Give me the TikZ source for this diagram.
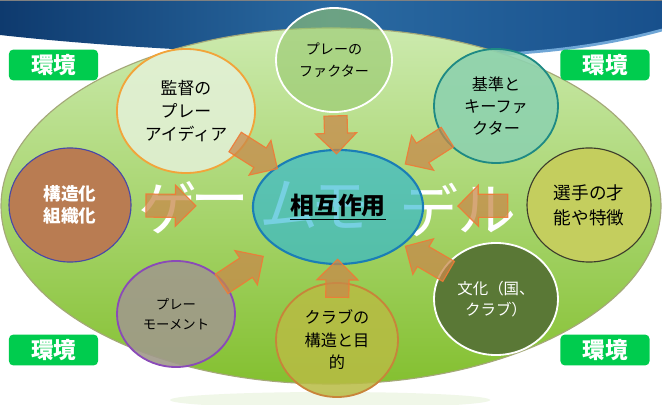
\documentclass[tikz,border=0pt]{standalone}
\usepackage{fontspec}
\newfontfamily\jp{Noto Sans CJK JP}
\usetikzlibrary{shapes.geometric, shapes.arrows, positioning, calc}

\definecolor{bandL}{HTML}{0E3A6E}
\definecolor{bandM}{HTML}{2A6AA2}
\definecolor{bandR}{HTML}{18508C}
\definecolor{bandlight}{HTML}{6FA6D6}
\definecolor{fieldT}{HTML}{CCEAAE}
\definecolor{fieldM}{HTML}{A8D872}
\definecolor{fieldB}{HTML}{84C030}
\definecolor{fieldline}{HTML}{A4A878}
\definecolor{glow}{HTML}{F0F7E8}
\definecolor{envgreen}{HTML}{00CC4E}
\definecolor{kantokuline}{HTML}{F2A43A}
\definecolor{kantokufill}{HTML}{E4F1D8}
\definecolor{factorfill}{HTML}{98C870}
\definecolor{kijunline}{HTML}{1E8A84}
\definecolor{kijunfill}{HTML}{8ED2AE}
\definecolor{senshuline}{HTML}{3C3C2C}
\definecolor{senshufill}{HTML}{C4CE5E}
\definecolor{bunkafill}{HTML}{5A7836}
\definecolor{clubline}{HTML}{C8843A}
\definecolor{clubfill}{HTML}{B8BC44}
\definecolor{momentline}{HTML}{8A4AB8}
\definecolor{momentfill}{HTML}{A09A8A}
\definecolor{kozoline}{HTML}{4848A8}
\definecolor{kozofill}{HTML}{B97C52}
\definecolor{sogoline}{HTML}{1A7EB6}
\definecolor{sogofill}{HTML}{2EB7D2}
\definecolor{flowline}{HTML}{F07A36}
\definecolor{flowfill}{HTML}{C8894A}

\begin{document}
\begin{tikzpicture}[x=0.025cm, y=-0.025cm, font=\jp,
    bubble/.style={ellipse, draw, line width=1.3pt, align=center, inner sep=0pt, text=black, text opacity=1, font=\jp\fontsize{11.5}{16}\selectfont},
    env/.style={rounded corners=3pt, fill=envgreen, text=white, minimum width=2.225cm, minimum height=0.75cm, font=\jp\bfseries\fontsize{16}{18}\selectfont},
    flow/.style={single arrow, draw=flowline, fill=flowfill, fill opacity=.75, draw opacity=.9, line width=0.8pt, minimum height=1.25cm, minimum width=1cm, single arrow head extend=0.225cm, inner xsep=0pt, inner ysep=0.275cm, sloped, allow upside down},
    wm/.style={text=white, inner sep=0pt, font=\jp\fontsize{42}{42}\selectfont}
]
    \useasboundingbox (0,0) rectangle (662,405);
    \fill[white] (0,0) rectangle (662,405);

    % background band and field
    \shade[left color=bandL, right color=bandR, middle color=bandM] (0,0) -- (662,0) -- (662,30) .. controls (560,58) and (450,58) .. (330,55) .. controls (200,52) and (90,45) .. (0,35) -- cycle;
    \draw[bandlight, line width=2pt] (662,30) .. controls (560,58) and (450,58) .. (330,55);
    \draw[gray, line width=1pt] (0,0.5) -- (662,0.5);
    \fill[glow] (330,400) ellipse (160 and 8);
    \shade[top color=fieldT, middle color=fieldM, bottom color=fieldB] (331,206) ellipse (330 and 178);
    \draw[fieldline, line width=.8pt] (331,206) ellipse (330 and 178);

    % environment labels
    \node[env] (env1) at (53.5,65) {環境};
    \node[env] (env2) at (605,65) {環境};
    \node[env] (env3) at (53.5,350) {環境};
    \node[env] (env4) at (605,350) {環境};

    % factors
    \node[bubble, draw=kantokuline, fill=kantokufill, fill opacity=.85, minimum width=3.45cm, minimum height=3.1cm, font=\jp\fontsize{12}{16.5}\selectfont] (kantoku) at (186,111) {監督の\\プレー\\アイディア};
    \node[bubble, draw=white, fill=factorfill, fill opacity=.6, minimum width=2.9cm, minimum height=2.6cm, font=\jp\fontsize{10}{15.5}\selectfont] (factor) at (334,60) {プレーの\\ファクター};
    \node[bubble, draw=kijunline, fill=kijunfill, fill opacity=.9, minimum width=3.1cm, minimum height=2.85cm, font=\jp\fontsize{11.5}{15.5}\selectfont] (kijun) at (496,106) {基準と\\キーファ\\クター};
    \node[bubble, draw=senshuline, line width=.8pt, fill=senshufill, minimum width=3.1cm, minimum height=2.85cm, font=\jp\fontsize{12.5}{18}\selectfont] (senshu) at (589,205) {選手の才\\能や特徴};
    \node[bubble, draw=white, fill=bunkafill, text=white, minimum width=3.1cm, minimum height=2.8cm, font=\jp\fontsize{11}{15}\selectfont] (bunka) at (496,299) {文化（国、\\クラブ）};
    \node[bubble, draw=clubline, fill=clubfill, fill opacity=.85, minimum width=3.05cm, minimum height=2.85cm, font=\jp\fontsize{11.5}{16}\selectfont] (club) at (337,340) {クラブの\\構造と目\\的};
    \node[bubble, draw=momentline, fill=momentfill, fill opacity=.9, minimum width=2.95cm, minimum height=2.65cm, font=\jp\fontsize{9.5}{14}\selectfont] (moment) at (176,314) {プレー\\モーメント};
    \node[bubble, draw=kozoline, line width=.8pt, fill=kozofill, text=white, minimum width=3.05cm, minimum height=2.85cm, font=\jp\bfseries\fontsize{12.5}{16}\selectfont] (kozo) at (70,205) {構造化\\組織化};

    % watermark
    \node[wm] (w1) at (168,208) {ゲ};
    \node[wm] (w2) at (220,208) {ー};
    \node[wm] (w3) at (289,205) {ム};
    \node[wm] (w4) at (340,207) {モ};
    \node[wm] (w5) at (429,210) {デ};
    \node[wm] (w6) at (487,210) {ル};

    % centre
    \node[bubble, draw=sogoline, line width=1.5pt, fill=sogofill, fill opacity=.65, minimum width=4.25cm, minimum height=2.85cm, font=\jp\bfseries\fontsize{17}{20}\selectfont] (sogo) at (338,207) {\underline{相互作用}};

    % arrows into the centre
    \path (kantoku.center) -- node[flow, pos=.43] (f1) {} (sogo.center);
    \path (factor.center) -- node[flow, pos=.47, minimum height=.95cm] (f2) {} (sogo.center);
    \path (kijun.center) -- node[flow, pos=.41] (f3) {} (sogo.center);
    \path (senshu.center) -- node[flow, pos=.40] (f4) {} (sogo.center);
    \path (bunka.center) -- node[flow, pos=.405] (f5) {} (sogo.center);
    \path (club.center) -- node[flow, pos=.42, minimum height=.95cm] (f6) {} (sogo.center);
    \path (moment.center) -- node[flow, pos=.38] (f7) {} (sogo.center);
    \path (kozo.center) -- node[flow, pos=.355] (f8) {} (sogo.center);
\end{tikzpicture}
\end{document}
